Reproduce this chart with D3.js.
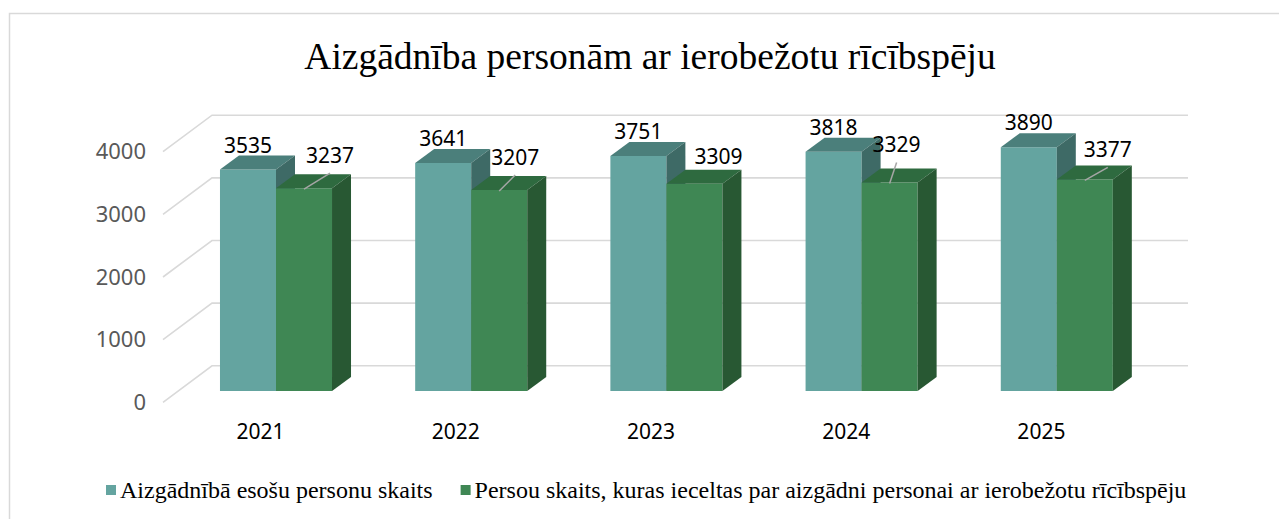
<!DOCTYPE html>
<html>
<head>
<meta charset="utf-8">
<script src="https://cdn.jsdelivr.net/npm/d3@7"></script>
<style>
  html, body { margin: 0; padding: 0; background: #fff; }
  svg { display: block; }
</style>
</head>
<body>
<svg id="chart" width="1279" height="519"></svg>
<script>
// Data
const title = "Aizgādnība personām ar ierobežotu rīcībspēju";
const categories = ["2021", "2022", "2023", "2024", "2025"];
const seriesNames = [
  "Aizgādnībā esošu personu skaits",
  "Persou skaits, kuras ieceltas par aizgādni personai ar ierobežotu rīcībspēju"
];
const wardsCount = [3535, 3641, 3751, 3818, 3890];
const guardiansCount = [3237, 3207, 3309, 3329, 3377];
const yTicks = [0, 1000, 2000, 3000, 4000];

// Layout: manual nudges for the second series' labels (dx, dy from default) and leader flags
const guardianLabelNudge = [[26, -8], [16, -8], [24, -3], [7, -13], [23, -5]];
const guardianLeader = [true, true, false, true, true];

// Face colours per series: front, top, side
const palette = [
  { front: "#64a4a0", top: "#4b7f7b", side: "#3e6a66" },
  { front: "#3f8754", top: "#2e6a3f", side: "#285833" }
];

const sans = "'Noto Sans', 'Open Sans', sans-serif";
const serif = "'Liberation Serif', 'Times New Roman', serif";

const svg = d3.select("#chart");

// Chart frame
svg.append("rect")
  .attr("x", 9.5).attr("y", 13.5)
  .attr("width", 1400).attr("height", 600)
  .attr("fill", "#fff").attr("stroke", "#d9d9d9").attr("stroke-width", 1.5);

// Title
svg.append("text")
  .attr("x", 650).attr("y", 69)
  .attr("text-anchor", "middle")
  .attr("font-family", serif)
  .attr("font-size", 37.5)
  .attr("fill", "#000")
  .text(title);

// 3D geometry (oblique projection)
const floorLeft = 163, floorRight = 1139;
const wallDx = 49, wallDy = -36.5;      // front edge -> back wall
const planeDx = 15.4, planeDy = -11.3;  // front edge -> bar front plane
const depthDx = 19, depthDy = -14;      // bar front -> bar back

const yFront = d3.scaleLinear().domain([0, 4000]).range([402.3, 151.7]);
const x = d3.scaleBand().domain(categories).range([floorLeft, floorRight])
  .paddingInner(0.426).paddingOuter(0.213);
const xSub = d3.scaleBand().domain([0, 1]).range([0, x.bandwidth()]);

// Gridlines: side wall diagonal + back wall horizontal
svg.append("g").selectAll("path").data(yTicks).join("path")
  .attr("d", t => {
    const y = yFront(t);
    return `M${floorLeft},${y} L${floorLeft + wallDx},${y + wallDy} L${floorRight + wallDx},${y + wallDy}`;
  })
  .attr("fill", "none").attr("stroke", "#d9d9d9").attr("stroke-width", 1.6);

// Y axis labels
const yAxis = svg.append("g").attr("transform", "translate(146,0)")
  .call(d3.axisLeft(yFront).tickValues(yTicks).tickSize(0).tickPadding(0).tickFormat(d3.format("d")));
yAxis.select(".domain").remove();
yAxis.selectAll("text")
  .attr("font-family", sans)
  .attr("font-size", 22).attr("fill", "#595959");

// Category axis labels
const xAxis = svg.append("g").attr("transform", "translate(0,424)")
  .call(d3.axisBottom(x).tickSize(0).tickPadding(0));
xAxis.select(".domain").remove();
xAxis.selectAll("text")
  .attr("font-family", sans)
  .attr("font-size", 21).attr("fill", "#000");

// Bars
const series = [wardsCount, guardiansCount];
const rows = categories.map((c, i) => ({ c, i, vals: series.map(s => s[i]) }));
const barLayer = svg.append("g");
const labelLayer = svg.append("g")
  .attr("font-family", sans)
  .attr("font-size", 21).attr("fill", "#000");

rows.forEach(row => {
  row.vals.forEach((v, s) => {
    const x0 = x(row.c) + xSub(s) + planeDx;
    const x1 = x0 + xSub.bandwidth();
    const yT = yFront(v) + planeDy;
    const yB = yFront(0) + planeDy;
    const col = palette[s];
    const g = barLayer.append("g");
    g.append("path")
      .attr("d", `M${x0},${yT} L${x1},${yT} L${x1},${yB} L${x0},${yB} Z`)
      .attr("fill", col.front);
    g.append("path")
      .attr("d", `M${x0},${yT} L${x0 + depthDx},${yT + depthDy} L${x1 + depthDx},${yT + depthDy} L${x1},${yT} Z`)
      .attr("fill", col.top);
    g.append("path")
      .attr("d", `M${x1},${yT} L${x1 + depthDx},${yT + depthDy} L${x1 + depthDx},${yB + depthDy} L${x1},${yB} Z`)
      .attr("fill", col.side);

    // Value label
    const cx = (x0 + x1) / 2;
    let lx = cx, ly = yT - 17;
    if (s === 1) {
      lx += guardianLabelNudge[row.i][0];
      ly += guardianLabelNudge[row.i][1];
      if (guardianLeader[row.i]) {
        labelLayer.append("line")
          .attr("x1", cx).attr("y1", yT + 1)
          .attr("x2", lx).attr("y2", ly + 10)
          .attr("stroke", "#a6a6a6").attr("stroke-width", 1.5);
      }
    }
    labelLayer.append("text")
      .attr("x", lx).attr("y", ly)
      .attr("text-anchor", "middle")
      .text(v);
  });
});

// Legend: entries laid out left to right
const legend = svg.append("g")
  .attr("font-family", serif)
  .attr("font-size", 24).attr("fill", "#000");
let lx = 106;
seriesNames.forEach((name, s) => {
  legend.append("rect")
    .attr("x", lx).attr("y", 485)
    .attr("width", 10).attr("height", 10)
    .attr("fill", palette[s].front);
  const t = legend.append("text")
    .attr("x", lx + 14).attr("y", 498)
    .text(name);
  lx += 14 + t.node().getComputedTextLength() + 28;
});
</script>
</body>
</html>
